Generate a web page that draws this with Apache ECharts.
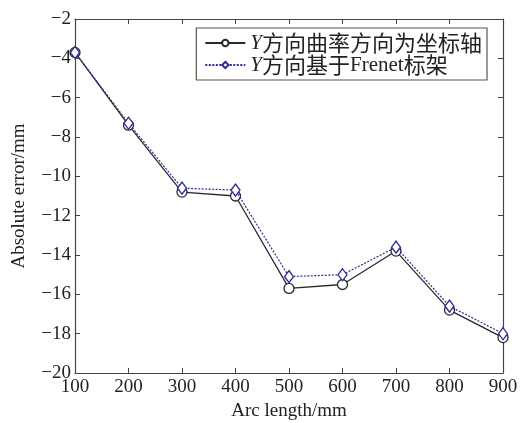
<!DOCTYPE html>
<html>
<head>
<meta charset="utf-8">
<script src="https://cdn.jsdelivr.net/npm/echarts@6/dist/echarts.min.js"></script>
<style>
    html,body{margin:0;padding:0;background:#fff;}
    #chart{width:523px;height:423px;}
</style>
</head>
<body>
<div id="chart"></div>
<script>
// arc length categories (mm)
var arcLength = [100, 200, 300, 400, 500, 600, 700, 800, 900];
// Y方向曲率方向为坐标轴
var curvatureErr = [-3.7, -7.4, -10.8, -11.0, -15.7, -15.5, -13.8, -16.8, -18.2];
// Y方向基于Frenet标架
var frenetErr = [-3.7, -7.3, -10.6, -10.7, -15.1, -15.0, -13.6, -16.6, -18.0];

var seriesNames = ['Y方向曲率方向为坐标轴', 'Y方向基于Frenet标架'];

var dom = document.getElementById('chart');
var myChart = echarts.init(dom, null, {renderer: 'canvas'});

var serif = '"Liberation Serif", "Times New Roman", "Noto Sans CJK SC", serif';
var axisCol = '#444';
var txtCol = '#222';

function pairs(vals){
    return arcLength.map(function(x, i){ return [x, vals[i]]; });
}

// split legend label into italic Y, CJK runs and latin runs
function legendText(name){
    var out = '{i|Y}';
    var rest = name.slice(1);
    var parts = rest.match(/[A-Za-z]+|[^A-Za-z]+/g);
    parts.forEach(function(p){
        out += /[A-Za-z]/.test(p) ? '{l|' + p + '}' : '{c|' + p + '}';
    });
    return out;
}

var option = {
    animation: false,
    backgroundColor: '#fff',
    grid: {left: 75, right: 20, top: 19, bottom: 50, outerBoundsMode: 'none', containLabel: false},
    legend: {
        right: 36,
        top: 28,
        orient: 'vertical',
        itemWidth: 40,
        itemHeight: 8,
        itemGap: 0,
        padding: [4, 5, 4, 8],
        borderColor: '#555',
        borderWidth: 1.2,
        backgroundColor: '#fff',
        data: seriesNames,
        formatter: legendText,
        textStyle: {
            padding: [0, 0, 0, 0],
            rich: {
                i: {fontFamily: serif, fontStyle: 'italic', fontSize: 21, color: txtCol, lineHeight: 22},
                c: {fontFamily: '"Noto Sans CJK SC", serif', fontSize: 22, color: txtCol, lineHeight: 22},
                l: {fontFamily: serif, fontSize: 21, color: txtCol, lineHeight: 22}
            }
        }
    },
    xAxis: [{
        type: 'value',
        min: 100, max: 900, interval: 100,
        name: 'Arc length/mm',
        nameLocation: 'middle',
        nameGap: 24,
        nameTextStyle: {fontFamily: serif, fontSize: 19, color: txtCol},
        axisLine: {onZero: false, lineStyle: {color: axisCol, width: 1.2}},
        axisTick: {inside: true, length: 5, lineStyle: {color: axisCol}},
        axisLabel: {fontFamily: serif, fontSize: 19, color: txtCol, margin: 5},
        splitLine: {show: false}
    }, {
        type: 'value', position: 'top',
        min: 100, max: 900, interval: 100,
        axisLine: {onZero: false, lineStyle: {color: axisCol, width: 1.2}},
        axisTick: {inside: true, length: 5, lineStyle: {color: axisCol}},
        axisLabel: {show: false},
        splitLine: {show: false}
    }],
    yAxis: [{
        type: 'value',
        min: -20, max: -2, interval: 2,
        name: 'Absolute error/mm',
        nameLocation: 'middle',
        nameGap: 46,
        nameTextStyle: {fontFamily: serif, fontSize: 19, color: txtCol},
        axisLine: {show: true, onZero: false, lineStyle: {color: axisCol, width: 1.2}},
        axisTick: {show: true, inside: true, length: 5, lineStyle: {color: axisCol}},
        axisLabel: {
            fontFamily: serif, fontSize: 19, color: txtCol, margin: 4,
            formatter: function(v){ return String(v).replace('-', '\u2212'); }
        },
        splitLine: {show: false}
    }, {
        type: 'value', position: 'right',
        min: -20, max: -2, interval: 2,
        axisLine: {show: true, onZero: false, lineStyle: {color: axisCol, width: 1.2}},
        axisTick: {show: true, inside: true, length: 5, lineStyle: {color: axisCol}},
        axisLabel: {show: false},
        splitLine: {show: false}
    }],
    series: [
        {
            name: seriesNames[0],
            type: 'line',
            data: pairs(curvatureErr),
            symbol: 'circle',
            symbolSize: 10,
            itemStyle: {color: '#fff', borderColor: '#2a2a2a', borderWidth: 1.3},
            lineStyle: {color: '#2a2a2a', width: 1.3},
            z: 2
        },
        {
            name: seriesNames[1],
            type: 'line',
            data: pairs(frenetErr),
            symbol: 'diamond',
            symbolSize: [9, 12],
            itemStyle: {color: '#fff', borderColor: '#2b2b99', borderWidth: 1.3},
            lineStyle: {color: '#2b2b99', width: 1.2, type: [2, 1.5]},
            z: 3
        }
    ]
};

myChart.setOption(option);
</script>
</body>
</html>
